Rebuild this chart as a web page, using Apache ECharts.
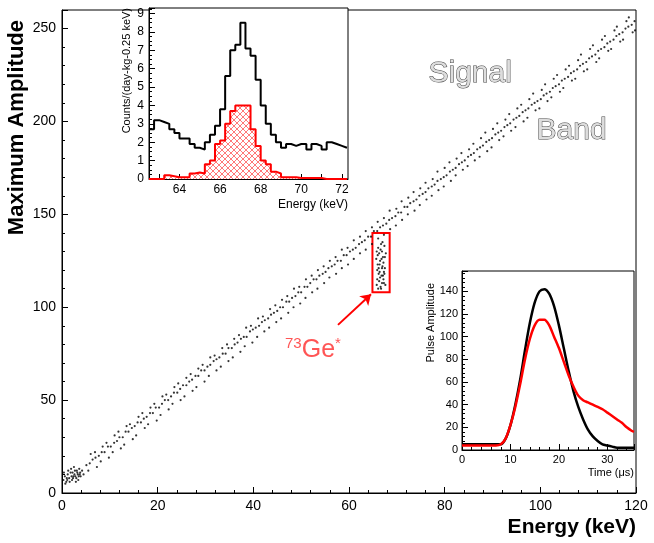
<!DOCTYPE html><html><head><meta charset="utf-8"><script src="https://cdn.jsdelivr.net/npm/echarts@6/dist/echarts.min.js"></script>
<style>html,body{margin:0;background:#fff}#c{width:654px;height:543px}</style></head><body><div id="c"></div><script>
const bandA=[[5.1,15],[5.8,16],[6.4,18],[7.0,19],[7.7,20],[8.3,22],[8.9,22],[9.6,25],[10.2,25],[10.9,27],[11.5,28],[12.0,30],[12.7,30],[13.3,33],[13.9,33],[14.6,35],[15.2,36],[15.8,38],[16.5,38],[17.1,40],[17.7,41],[18.4,43],[19.0,43],[19.6,46],[20.3,46],[20.9,48],[21.5,50],[22.2,50],[22.8,52],[23.4,54],[24.1,54],[24.7,56],[25.3,58],[26.0,58],[26.6,60],[27.2,61],[27.9,63],[28.5,63],[29.1,66],[29.8,66],[30.4,68],[31.0,69],[31.7,71],[32.3,72],[32.9,73],[33.6,75],[34.2,75],[34.8,78],[35.5,78],[36.1,80],[36.7,81],[37.4,83],[38.0,84],[38.6,84],[39.3,87],[39.9,88],[40.5,89],[41.2,90],[41.8,92],[42.4,93],[43.1,94],[43.7,96],[44.3,97],[45.0,98],[45.6,100],[46.2,100],[46.9,103],[47.5,103],[48.1,105],[48.8,106],[49.4,108],[50.0,108],[50.7,111],[51.3,111],[51.9,113],[52.6,115],[53.2,115],[53.8,117],[54.5,118],[55.1,119],[55.7,121],[56.4,122],[57.0,123],[57.6,125],[58.3,125],[58.9,128],[59.5,128],[60.2,130],[60.8,131],[61.4,132],[62.1,134],[62.7,135],[63.3,136],[64.0,138],[64.6,138],[65.2,141],[65.9,141],[66.5,143],[67.1,144],[67.8,145],[68.4,147],[69.0,148],[69.7,149],[70.3,151],[70.9,151],[71.6,154],[72.2,154],[72.8,156],[73.5,157],[74.1,158],[74.7,160],[75.4,161],[76.0,162],[76.6,164],[77.3,165],[77.9,166],[78.5,168],[79.2,169],[79.8,170],[80.4,171],[81.1,173],[81.7,174],[82.3,175],[83.0,177],[83.6,178],[84.2,179],[84.9,181],[85.5,182],[86.1,183],[86.8,185],[87.4,186],[88.0,187],[88.7,189],[89.3,190],[89.9,191],[90.6,193],[91.2,194],[91.8,195],[92.5,197],[93.1,198],[93.7,199],[94.4,201],[95.0,202],[95.6,203],[96.3,205],[96.9,206],[97.5,207],[98.2,209],[98.8,210],[99.4,211],[100.1,212],[100.7,214],[101.3,215],[102.0,216],[102.6,218],[103.2,219],[103.9,220],[104.5,222],[105.1,223],[105.8,224],[106.4,226],[107.0,227],[107.7,228],[108.3,230],[108.9,231],[109.6,232],[110.2,234],[110.8,235],[111.5,236],[112.1,238],[112.7,239],[113.4,240],[114.0,242],[114.6,243],[115.3,244],[115.9,246],[116.5,247],[117.2,248],[117.8,250],[118.4,251],[119.1,252],[119.7,254]];
const bandB=[[6,21],[7.3,14],[8.5,25],[9.8,19],[11,31],[12.3,24],[13.5,36],[14.8,29],[16,41],[17.3,35],[18.5,46],[19.8,39],[21,52],[22.3,45],[23.5,57],[24.8,50],[26,62],[27.3,55],[28.5,67],[29.8,60],[31,73],[32.3,66],[33.5,78],[34.8,71],[36,83],[37.3,76],[38.5,89],[39.8,81],[41,94],[42.3,87],[43.5,99],[44.8,92],[46,104],[47.3,97],[48.5,110],[49.8,102],[51,115],[52.3,108],[53.5,120],[54.8,113],[56,125],[57.3,118],[58.5,131],[59.8,123],[61,136],[62.3,129],[63.5,141],[64.8,134],[66,146],[67.3,139],[68.5,152],[69.8,144],[71,157],[72.3,150],[73.5,162],[74.8,155],[76,167],[77.3,160],[78.5,173],[79.8,165],[81,178],[82.3,171],[83.5,183],[84.8,176],[86,188],[87.3,181],[88.5,194],[89.8,186],[91,199],[92.3,192],[93.5,204],[94.8,197],[96,209],[97.3,202],[98.5,215],[99.8,207],[101,220],[102.3,213],[103.5,225],[104.8,218],[106,230],[107.3,223],[108.5,236],[109.8,228],[111,241],[112.3,234],[113.5,246],[114.8,239],[116,251],[117.3,244],[118.5,256],[119.8,249]];
const bandC=[[5.5,12],[6.9,22],[8.1,17],[9.3,27],[10.6,22],[11.8,33],[13.0,26],[14.2,37],[15.5,31],[16.8,43],[18.0,37],[19.3,48],[20.6,42],[21.8,53],[23.1,48],[24.3,59],[25.6,52],[26.9,64],[28.1,57],[29.4,69],[30.7,63],[31.9,74],[33.2,68],[34.5,80],[35.7,73],[37.0,85],[38.2,79],[39.5,90],[40.8,84],[42.0,95],[43.3,89],[44.6,101],[45.8,94],[47.1,106],[48.4,100],[49.6,111],[50.9,105],[52.2,117],[53.4,110],[54.7,122],[55.9,116],[57.2,127],[58.5,121],[59.7,132],[61.0,126],[62.3,138],[63.5,131],[64.8,143],[66.1,137],[67.3,148],[68.6,142],[69.9,153],[71.1,147],[72.4,159],[73.7,152],[74.9,164],[76.2,158],[77.5,169],[78.7,163],[80.0,175],[81.3,168],[82.5,180],[83.8,174],[85.1,185],[86.3,179],[87.6,191],[88.9,184],[90.1,196],[91.4,190],[92.7,201],[93.9,195],[95.2,207],[96.5,200],[97.7,212],[99.0,206],[100.3,217],[101.5,211],[102.8,223],[104.1,216],[105.3,228],[106.6,222],[107.9,233],[109.1,227],[110.4,239],[111.7,232],[112.9,244],[114.2,238],[115.5,249],[116.7,243],[118.0,254],[119.3,248]];
const lowCluster=[[0.3,7],[0.6,9],[0.9,6],[1.2,10],[1.5,8],[1.8,11],[2.1,7],[2.4,9],[2.7,12],[3.0,8],[3.3,10],[3.6,13],[3.9,9],[0.4,11],[1.0,8],[1.6,6],[2.2,11],[2.8,9],[3.4,7],[3.8,11],[2.5,14],[3.1,12],[1.3,12],[0.7,5],[2.0,9],[3.5,9],[4.2,12],[4.5,10],[1.9,13],[2.9,6],[2.6,10],[3.2,11],[2.3,8],[3.7,10],[1.1,7]];
const geCluster=[[65.8,112],[66.2,118],[66.5,125],[66.9,130],[67.2,115],[67.5,121],[66.0,128],[66.7,110],[67.0,122],[67.4,133],[65.9,120],[66.3,114],[66.6,131],[67.1,127],[67.6,112],[66.4,123],[66.8,117],[67.3,119],[66.1,132],[65.7,126],[67.7,129],[66.9,113],[66.5,116],[67.2,124],[66.2,121],[67.0,135],[66.6,111],[67.4,118],[65.9,115],[66.8,126],[66.3,129],[67.5,127],[66.0,123],[66.7,134],[67.3,113],[66.4,119],[65.8,130],[67.1,117],[66.9,121],[66.1,110]];
const histStart=62.5, histBin=0.25;
const histAll=[2.7,3.2,3.1,3.0,2.7,2.5,2.2,2.2,1.9,1.7,1.6,2.0,2.4,2.9,3.8,5.6,7.0,7.3,8.5,7.1,6.7,5.4,4.0,3.0,2.4,2.0,1.7,1.9,1.8,1.9,1.9,1.6,1.9,1.8,1.6,2.0,1.9,1.8,1.7];
const histSel=[0,0,0,0.2,0.15,0.1,0.1,0.1,0.3,0.35,0.3,0.8,1.0,1.9,2.1,3.0,3.7,4.0,4.0,4.0,2.7,1.8,1.0,0.8,0.4,0.3,0.1,0.1,0.1,0.05,0.05,0.05,0.05,0.05,0,0,0,0,0];
const histTicks=[63,64,65,66,67,68,69,70,71,72];
const histLabels=[64,66,68,70,72];
const pulseT=[0,1,2,3,4,5,6,7,8,9,10,11,12,13,14,15,16,17,18,19,20,21,22,23,24,25,26,27,28,29,30,31,32,33,34,35,35.5];
const pulseBlack=[5,5,5,5,5,5,5,5,5,10,22,40,62,88,112,130,140,142,138,127,110,90,70,52,38,27,18,12,8,5,4,3,2,2,2,2,2];
const pulseRed=[4,4,4,4,4,4,4,4,5,10,22,38,58,80,98,110,115,115,110,100,90,78,66,56,48,44,42,40,38,36,33,30,27,24,20,17,16];
function steps(v){const d=v.map((y,i)=>[histStart+i*histBin,y]);d.push([histStart+v.length*histBin,v[v.length-1]]);return d;}
const pc=document.createElement('canvas');pc.width=6;pc.height=6;const g=pc.getContext('2d');g.fillStyle='#fff';g.fillRect(0,0,6,6);g.strokeStyle='#f55';g.lineWidth=0.8;g.beginPath();g.moveTo(0,0);g.lineTo(6,6);g.moveTo(6,0);g.lineTo(0,6);g.stroke();
const F='Liberation Sans';
const mt={show:true,inside:true,length:6,lineStyle:{color:'#000'}};
const mmt={show:true,splitNumber:5,length:3,lineStyle:{color:'#000'}};
const ax=(o)=>Object.assign({type:'value',axisLine:{show:true,onZero:false,lineStyle:{color:'#000'}},splitLine:{show:false},axisTick:Object.assign({},mt),minorTick:mmt,axisLabel:{color:'#000',fontFamily:F,fontSize:12,margin:4}},o);
const c=echarts.init(document.getElementById('c'));
c.setOption({animation:false,
grid:[{left:62,right:18,top:10,bottom:50,show:true,borderColor:'#000',borderWidth:1},
{left:149,right:306,top:8,bottom:364,show:true,backgroundColor:'#fff',borderColor:'#000',z:5},
{left:462,right:20,top:271,bottom:93,show:true,backgroundColor:'#fff',borderColor:'#000',z:5}],
xAxis:[ax({gridIndex:0,min:0,max:120,interval:20,axisLabel:{color:'#000',fontFamily:F,fontSize:14,margin:6},name:'Energy (keV)',nameLocation:'end',nameGap:0,nameTextStyle:{fontFamily:F,fontSize:21,fontWeight:'bold',color:'#000',align:'right',verticalAlign:'top',padding:[24,0,0,0]}}),
ax({gridIndex:1,min:62.5,max:72.3,axisLabel:{color:'#000',fontFamily:F,fontSize:12,margin:5,customValues:histLabels},axisTick:{show:true,inside:true,length:5,customValues:histTicks,lineStyle:{color:'#000'}},minorTick:{show:false},name:'Energy (keV)',nameLocation:'end',nameGap:0,nameTextStyle:{fontFamily:F,fontSize:12,color:'#000',align:'right',verticalAlign:'top',padding:[20,0,0,0]},z:6}),
ax({gridIndex:2,min:0,max:35.5,interval:10,axisLabel:{color:'#000',fontFamily:F,fontSize:11,margin:4,formatter:v=>v%10===0?v:''},name:'Time (μs)',nameLocation:'end',nameGap:0,nameTextStyle:{fontFamily:F,fontSize:11,color:'#000',align:'right',verticalAlign:'top',padding:[17,0,0,0]},z:6})],
yAxis:[ax({gridIndex:0,min:0,max:260,interval:50,axisLabel:{color:'#000',fontFamily:F,fontSize:14,margin:6,formatter:v=>v%50===0?v:''},name:'Maximum Amplitude',nameLocation:'end',nameGap:0,nameRotate:90,nameTextStyle:{fontFamily:F,fontSize:22,fontWeight:'bold',color:'#000',align:'right',verticalAlign:'bottom',padding:[0,10,34,0]}}),
ax({gridIndex:1,min:0,max:9.3,interval:1,axisLabel:{color:'#000',fontFamily:F,fontSize:12,margin:5,formatter:v=>Number.isInteger(v)?v:''},minorTick:{show:true,splitNumber:4,length:3},name:'Counts/(day-kg-0.25 keV)',nameLocation:'end',nameGap:0,nameRotate:90,nameTextStyle:{fontFamily:F,fontSize:11,color:'#000',align:'right',verticalAlign:'bottom',padding:[0,0,17,0]},z:6}),
ax({gridIndex:2,min:0,max:158,interval:20,axisLabel:{color:'#000',fontFamily:F,fontSize:11,margin:4,formatter:v=>v%20===0?v:''},name:'Pulse Amplitude',nameLocation:'end',nameGap:0,nameRotate:90,nameTextStyle:{fontFamily:F,fontSize:11,color:'#000',align:'right',verticalAlign:'bottom',padding:[0,12,26,0]},z:6})],
series:[
{type:'scatter',xAxisIndex:0,yAxisIndex:0,z:1,symbolSize:2.2,itemStyle:{color:'#000'},data:bandA.concat(bandB,bandC,lowCluster,geCluster),
markArea:{silent:true,itemStyle:{color:'rgba(0,0,0,0)',borderColor:'#f00',borderWidth:2,borderRadius:4},data:[[{coord:[64.9,108]},{coord:[68.5,140]}]]},
markLine:{silent:true,symbol:['none','arrow'],symbolSize:10,label:{show:false},lineStyle:{color:'#f00',width:2,type:'solid'},data:[[{coord:[57.7,90.5]},{coord:[64.6,107]}]]}},
{type:'line',xAxisIndex:1,yAxisIndex:1,z:6,step:'end',symbol:'none',lineStyle:{color:'#000',width:2},data:steps(histAll)},
{type:'line',xAxisIndex:1,yAxisIndex:1,z:7,step:'end',symbol:'none',lineStyle:{color:'#f00',width:2},areaStyle:{color:{image:pc,repeat:'repeat'},opacity:1},data:steps(histSel)},
{type:'line',xAxisIndex:2,yAxisIndex:2,z:6,symbol:'none',smooth:0.3,lineStyle:{color:'#000',width:2.5},data:pulseT.map((t,i)=>[t,pulseBlack[i]])},
{type:'line',xAxisIndex:2,yAxisIndex:2,z:7,symbol:'none',smooth:0.3,lineStyle:{color:'#f00',width:2.5},data:pulseT.map((t,i)=>[t,pulseRed[i]])}],
graphic:[
{type:'text',left:285,top:336,z:10,style:{text:'{s|73}{b|Ge}{s|*}',rich:{s:{fontSize:15,fill:'#f55',fontFamily:F,verticalAlign:'top',padding:[0,0,14,0]},b:{fontSize:25,fill:'#f55',fontFamily:F}}}},
{type:'text',left:428,top:58,z:10,style:{text:'Signal',font:'30px "Liberation Sans"',fill:'#ddd',stroke:'#444',lineWidth:1}},
{type:'text',left:536,top:115,z:10,style:{text:'Band',font:'30px "Liberation Sans"',fill:'#ddd',stroke:'#444',lineWidth:1}}]
});
</script></body></html>
